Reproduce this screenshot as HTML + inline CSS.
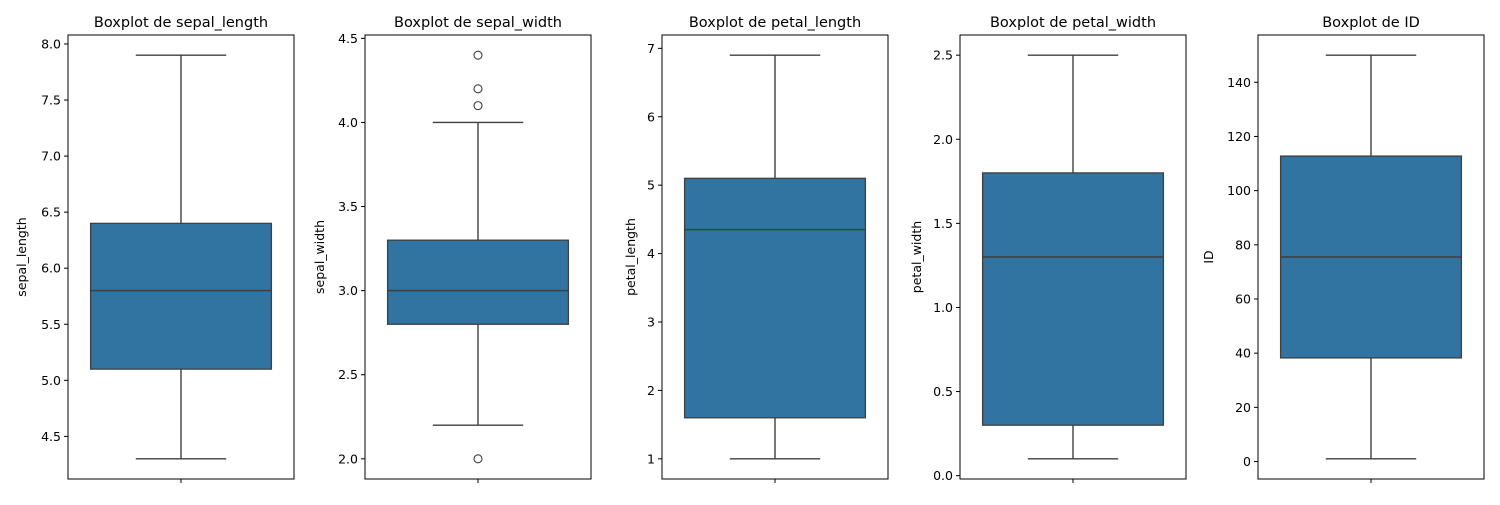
<!DOCTYPE html>
<html><head><meta charset="utf-8"><style>
body{margin:0;background:#fff;font-family:"Liberation Sans","DejaVu Sans",sans-serif;}
svg text{font-family:"DejaVu Sans","Liberation Sans",sans-serif;fill:#000}
</style></head><body>
<svg id="c" width="1500" height="500"></svg>
<script>
const varNames=["sepal_length","sepal_width","petal_length","petal_width","ID"];
const mins=[4.3,2.2,1.0,0.1,1];
const q1s=[5.1,2.8,1.6,0.3,38.25];
const medians=[5.8,3.0,4.35,1.3,75.5];
const q3s=[6.4,3.3,5.1,1.8,112.75];
const maxs=[7.9,4.0,6.9,2.5,150];
const outliers=[[],[4.4,4.2,4.1,2.0],[],[],[]];
const ticks=[[4.5,5.0,5.5,6.0,6.5,7.0,7.5,8.0],[2.0,2.5,3.0,3.5,4.0,4.5],[1,2,3,4,5,6,7],[0.0,0.5,1.0,1.5,2.0,2.5],[0,20,40,60,80,100,120,140]];
const tickLabels=[["4.5","5.0","5.5","6.0","6.5","7.0","7.5","8.0"],["2.0","2.5","3.0","3.5","4.0","4.5"],["1","2","3","4","5","6","7"],["0.0","0.5","1.0","1.5","2.0","2.5"],["0","20","40","60","80","100","120","140"]];
const lefts=[68,365,662,960,1258];
const ylabOff=[46,45,31,43,49];
const W=226,TOP=35,BOT=479;
const NS="http://www.w3.org/2000/svg";
const svg=document.getElementById('c');
function mk(t,a,p){const e=document.createElementNS(NS,t);for(const k in a)e.setAttribute(k,a[k]);(p||svg).appendChild(e);return e;}
for(let i=0;i<5;i++){
  const g=mk('g',{});
  
  
  const all=[mins[i],maxs[i],...outliers[i]];
  const lo=Math.min(...all),hi=Math.max(...all),m=(hi-lo)*0.05;
  const y0=lo-m,y1=hi+m;
  const y=v=>BOT-(v-y0)/(y1-y0)*(BOT-TOP);
  const L=lefts[i],cx=L+W/2,bw=W*0.8;
  const b=mk('rect',{x:cx-bw/2,y:y(q3s[i]),width:bw,height:y(q1s[i])-y(q3s[i]),fill:'#3274a1',stroke:'#3f3f3f','stroke-width':1.3},g);
  
  const ln=(x1,yy1,x2,yy2,n)=>{const e=mk('line',{x1:x1,y1:yy1,x2:x2,y2:yy2,stroke:'#3f3f3f','stroke-width':1.4},g);};
  ln(cx-bw/2,y(medians[i]),cx+bw/2,y(medians[i]),'median-line');
  ln(cx,y(q3s[i]),cx,y(maxs[i]),'upper-whisker');
  ln(cx,y(q1s[i]),cx,y(mins[i]),'lower-whisker');
  ln(cx-bw/4,y(maxs[i]),cx+bw/4,y(maxs[i]),'upper-cap');
  ln(cx-bw/4,y(mins[i]),cx+bw/4,y(mins[i]),'lower-cap');
  outliers[i].forEach(v=>{const c=mk('circle',{cx:cx,cy:y(v),r:4,fill:'none',stroke:'#3f3f3f','stroke-width':1.1},g);});
  const f=mk('rect',{x:L,y:TOP,width:W,height:BOT-TOP,fill:'none',stroke:'#000','stroke-width':1},g);
  
  mk('line',{x1:cx,y1:BOT,x2:cx,y2:BOT+4,stroke:'#000'},g);
  ticks[i].forEach((t,k)=>{const yy=y(t);mk('line',{x1:L-4,y1:yy,x2:L,y2:yy,stroke:'#000'},g);
    const tx=mk('text',{x:L-7,y:yy+4.5,'font-size':12.5,'text-anchor':'end'},g);tx.textContent=tickLabels[i][k];
    });
  const ti=mk('text',{x:cx,y:27,'font-size':14.5,'text-anchor':'middle'},g);ti.textContent='Boxplot de '+varNames[i];
  
  const yl=mk('text',{x:0,y:0,'font-size':12.5,'text-anchor':'middle',transform:`translate(${L-ylabOff[i]+4},${(TOP+BOT)/2}) rotate(-90)`},g);
  yl.textContent=varNames[i];
  
}
</script>
</body></html>
